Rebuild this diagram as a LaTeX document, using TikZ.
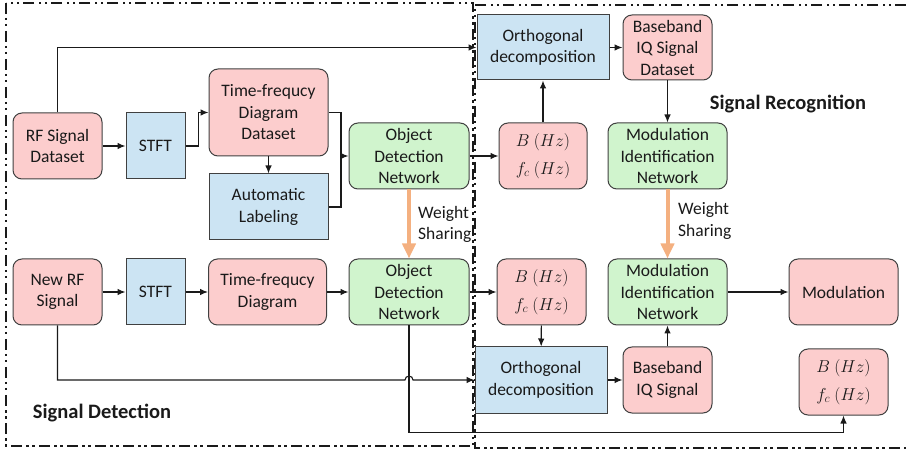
\documentclass[tikz,border=0pt]{standalone}
\usepackage{fontspec}
\setmainfont{Carlito}
\usetikzlibrary{arrows.meta,calc}
\definecolor{pinkfill}{RGB}{252,205,205}
\definecolor{bluefill}{RGB}{204,228,243}
\definecolor{greenfill}{RGB}{208,244,205}
\definecolor{edgegray}{RGB}{64,64,64}
\definecolor{weightorange}{RGB}{244,176,128}
\definecolor{inkcol}{RGB}{26,26,26}

\begin{document}
\begin{tikzpicture}[x=1pt,y=-1pt,
  every node/.style={font=\fontsize{17.5}{21.5}\selectfont, text=inkcol, inner sep=0pt, align=center},
  wh/.style 2 args={minimum width=#1pt, minimum height=#2pt},
  pinkbox/.style={draw=edgegray, fill=pinkfill, line width=1pt, rounded corners=9pt},
  greenbox/.style={draw=edgegray, fill=greenfill, line width=1pt, rounded corners=9pt},
  bluebox/.style={draw=edgegray, fill=bluefill, line width=1pt},
  arr/.style={-{Latex[length=8pt,width=6.5pt]}, line width=1.1pt, draw=inkcol},
  link/.style={line width=1.1pt, draw=inkcol},
  sharearr/.style={-{Triangle[length=15pt,width=13pt]}, line width=4pt, draw=weightorange},
  framebox/.style={line width=1.3pt, draw=inkcol,
    dash pattern=on 11pt off 4pt on 2.5pt off 3.5pt on 2.5pt off 4.5pt},
  title/.style={font=\fontsize{20.5}{24}\selectfont\bfseries},
  mathrows/.style={font=\fontsize{18.5}{27.5}\selectfont}
]
\useasboundingbox (0,0) rectangle (906,449);

% region frames
\draw[framebox] (6,3) rectangle (473,446);
\draw[framebox] (906,5) -- (475,5) -- (475,448) -- (906,448);

% ---- nodes: training path
\node[pinkbox, wh={89}{66}] (rfd) at (57.5,146) {RF Signal\\Dataset};
\node[bluebox, wh={59}{66}] (stft1) at (155.5,146) {STFT};
\node[pinkbox, wh={119}{87}] (tfd) at (268.5,112.5) {Time-frequcy\\Diagram\\Dataset};
\node[bluebox, wh={119}{66}] (al) at (268.5,207) {Automatic\\Labeling};
\node[greenbox, wh={120}{66}] (odn1) at (409,156) {Object\\Detection\\Network};
\node[bluebox, wh={132}{65}] (od1) at (543,47.5) {Orthogonal\\decomposition};
\node[pinkbox, wh={89}{65}] (biqd) at (667.5,47.5) {Baseband\\IQ Signal\\Dataset};
\node[pinkbox, wh={88}{66}, mathrows] (b1) at (543,156) {$B\ (Hz)$\\$f_c\ (Hz)$};
\node[greenbox, wh={119}{66}] (min1) at (667.5,156) {Modulation\\Identification\\Network};

% ---- nodes: inference path
\node[pinkbox, wh={89}{66}] (nrf) at (57.5,292) {New RF\\Signal};
\node[bluebox, wh={59}{66}] (stft2) at (155.5,292) {STFT};
\node[pinkbox, wh={118}{66}] (tfd2) at (267.5,292) {Time-frequcy\\Diagram};
\node[greenbox, wh={120}{66}] (odn2) at (409,292) {Object\\Detection\\Network};
\node[pinkbox, wh={89}{66}, mathrows] (b2) at (541.5,292) {$B\ (Hz)$\\$f_c\ (Hz)$};
\node[greenbox, wh={119}{66}] (min2) at (667.5,292) {Modulation\\Identification\\Network};
\node[pinkbox, wh={109}{66}] (mod) at (843.5,292) {Modulation};
\node[bluebox, wh={132}{66}] (od2) at (541,380) {Orthogonal\\decomposition};
\node[pinkbox, wh={89}{66}] (biq) at (667.5,380) {Baseband\\IQ Signal};
\node[pinkbox, wh={89}{66}, mathrows] (b3) at (843.5,382) {$B\ (Hz)$\\$f_c\ (Hz)$};

% ---- labels
\node[anchor=west, align=left] (ws1) at (418,224.5) {Weight\\Sharing};
\node[anchor=west, align=left] (ws2) at (678,221) {Weight\\Sharing};
\node[title] (sd) at (102,413) {Signal Detection};
\node[title] (sr) at (788,104) {Signal Recognition};

% ---- connectors: training path
\draw[arr] (rfd.north) |- (od1.west);
\draw[arr] (rfd) -- (stft1);
\draw[arr] (stft1.east) -- ++(13,0) |- (tfd.west);
\draw[arr] (tfd) -- (al);
\coordinate (merge) at (341,156);
\draw[link] (tfd.east) -| (merge);
\draw[link] (al.east) -| (merge);
\draw[arr] (merge) -- (odn1.west);
\draw[arr] (odn1) -- (b1);
\draw[arr] (b1) -- (od1);
\draw[arr] (od1) -- (biqd);
\draw[arr] (biqd) -- (min1);

% ---- weight sharing
\draw[sharearr] (odn1) -- (odn2);
\draw[sharearr] (min1) -- (min2);

% ---- connectors: inference path
\draw[arr] (nrf) -- (stft2);
\draw[arr] (stft2) -- (tfd2);
\draw[arr] (tfd2) -- (odn2);
\draw[arr] (odn2) -- (b2);
\draw[arr] (b2) -- (od2);
\draw[arr] (od2) -- (biq);
\draw[arr] (biq) -- (min2);
\draw[arr] (min2) -- (mod);
\coordinate (hop) at (405,380);
\draw[arr] (nrf.south) |- (hop) arc[start angle=180, end angle=360, radius=4] -- (od2.west);
\draw[arr] (odn2.south) |- ($(b3.south)+(0,17)$) -- (b3.south);
\end{tikzpicture}
\end{document}
